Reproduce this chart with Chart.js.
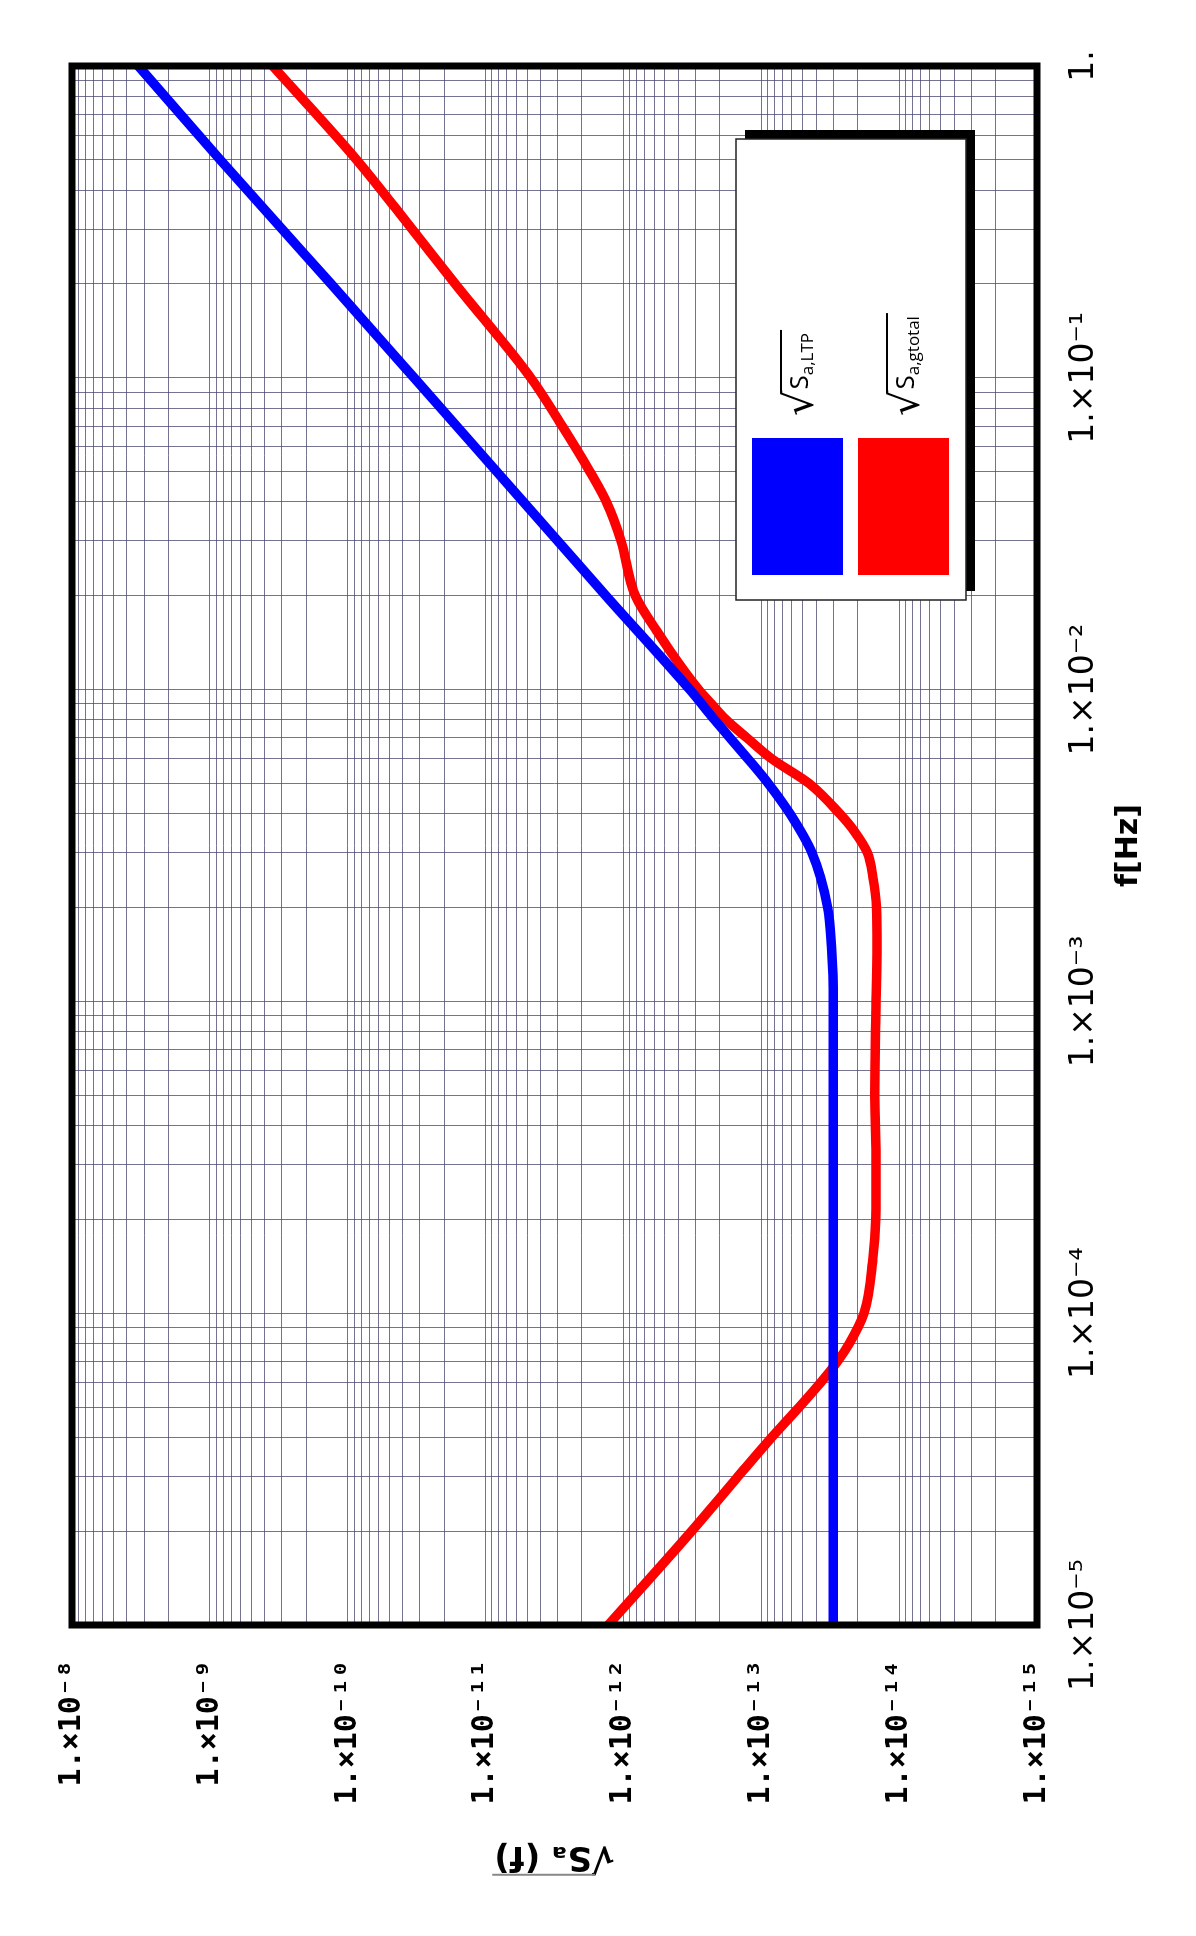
<!DOCTYPE html>
<html><head><meta charset="utf-8">
<script src="https://cdn.jsdelivr.net/npm/chart.js@4.4.1/dist/chart.umd.min.js"></script>
<style>
html,body{margin:0;padding:0;background:#fff;overflow:hidden;width:1196px;height:1936px;}
#wrap{position:absolute;left:0;top:0;width:1936px;height:1196px;transform-origin:0 0;transform:translateY(1936px) rotate(-90deg);background:#fff;}
</style></head><body>
<div id="wrap"><canvas id="c" width="1936" height="1196" style="width:1936px;height:1196px"></canvas></div>
<script>
// ---- data ----
const freqLTP = [1e-5, 1e-4, 1e-3, 1.5e-3, 2e-3, 3e-3, 4e-3, 5e-3, 6e-3, 8e-3, 1e-2, 2e-2, 3e-2, 5e-2, 0.1, 0.2, 0.3, 0.5, 1];
const sLTP    = [3e-14, 3e-14, 3e-14, 3.1e-14, 3.3e-14, 4.3e-14, 6.2e-14, 8.9e-14, 1.25e-13, 2.18e-13, 3.3e-13, 1.34e-12, 3.0e-12, 8.3e-12, 3.3e-11, 1.32e-10, 3.0e-10, 8.4e-10, 3.3e-9];
const freqTotal = [1e-5, 2e-5, 3e-5, 4e-5, 5e-5, 6e-5, 7e-5, 8e-5, 1e-4, 1.5e-4, 2e-4, 3e-4, 5e-4, 1e-3, 1.5e-3, 2e-3, 2.5e-3, 3e-3, 3.5e-3, 4e-3, 5e-3, 6e-3, 7e-3, 8e-3, 9e-3, 1e-2, 1.2e-2, 1.5e-2, 2e-2, 3e-2, 4e-2, 5e-2, 7e-2, 0.1, 0.2, 0.3, 0.5, 1];
const sTotal    = [1.29e-12, 3.2e-13, 1.47e-13, 8.4e-14, 5.3e-14, 3.7e-14, 2.8e-14, 2.3e-14, 1.8e-14, 1.55e-14, 1.48e-14, 1.47e-14, 1.5e-14, 1.47e-14, 1.45e-14, 1.46e-14, 1.55e-14, 1.7e-14, 2.1e-14, 2.7e-14, 4.5e-14, 8.4e-14, 1.27e-13, 1.8e-13, 2.3e-13, 2.85e-13, 3.9e-13, 5.5e-13, 8.2e-13, 1.04e-12, 1.33e-12, 1.75e-12, 2.78e-12, 4.7e-12, 1.66e-11, 3.42e-11, 8.6e-11, 3.5e-10];
const seriesLabels = ['Sa,LTP', 'Sa,gtotal'];
const seriesColors = ['#0000ff', '#ff0000'];
const freqDecades = [1e-5, 1e-4, 1e-3, 1e-2, 1e-1, 1];
const freqDecadeLabels = ['1.×10⁻⁵', '1.×10⁻⁴', '1.×10⁻³', '1.×10⁻²', '1.×10⁻¹', '1.'];
const valueDecades = [1e-15, 1e-14, 1e-13, 1e-12, 1e-11, 1e-10, 1e-9, 1e-8];
const valueDecadeLabels = ['1.×10⁻¹⁵', '1.×10⁻¹⁴', '1.×10⁻¹³', '1.×10⁻¹²', '1.×10⁻¹¹', '1.×10⁻¹⁰', '1.×10⁻⁹', '1.×10⁻⁸'];
const xTitle = 'f[Hz]';
const yTitle = '√Sₐ (f)';

// ---- helpers ----
function logGrid(decs) {
  const out = [];
  for (let i = 0; i < decs.length - 1; i++) {
    for (let m = 1; m < 10; m++) out.push(Number((m * decs[i]).toPrecision(3)));
  }
  out.push(decs[decs.length - 1]);
  return out;
}
function decadeLabel(v, decs, labs) {
  const lv = Math.log10(v);
  for (let i = 0; i < decs.length; i++) {
    if (Math.abs(lv - Math.log10(decs[i])) < 1e-6) return labs[i];
  }
  return '';
}
const pts = (xs, ys) => xs.map((x, i) => ({x: x, y: ys[i]}));

const gridColor = 'rgba(70,70,110,0.75)';

const framePlugin = {
  id: 'frame',
  afterDraw(chart) {
    const {ctx, chartArea: a} = chart;
    ctx.save();
    ctx.strokeStyle = '#000';
    ctx.lineWidth = 7;
    ctx.strokeRect(a.left, a.top, a.right - a.left, a.bottom - a.top);
    ctx.restore();
  }
};

const legendPlugin = {
  id: 'boxLegend',
  afterDatasetsDraw(chart) {
    const {ctx, chartArea: a} = chart;
    const bx = a.right - 534, by = a.bottom - 301, bw = 461, bh = 230;
    ctx.save();
    ctx.fillStyle = '#000';
    ctx.fillRect(bx + 9, by + 9, bw, bh);
    ctx.fillStyle = '#fff';
    ctx.fillRect(bx, by, bw, bh);
    ctx.strokeStyle = '#222';
    ctx.lineWidth = 1.5;
    ctx.strokeRect(bx, by, bw, bh);
    chart.data.datasets.forEach((ds, i) => {
      const py = by + 16 + i * 106;
      ctx.fillStyle = ds.borderColor;
      ctx.fillRect(bx + 25, py, 137, 91);
      const base = py + 56;
      let x = bx + 184;
      ctx.fillStyle = '#000';
      ctx.textBaseline = 'alphabetic';
      ctx.textAlign = 'left';
      ctx.font = '40px "DejaVu Sans"';
      const m = ctx.measureText('√');
      ctx.fillText('√', x, base + 5);
      const topY = base + 5 - m.actualBoundingBoxAscent;
      const vx = x + m.width - 3;
      x += m.width + 1;
      ctx.font = '26px "Open Sans"';
      const main = ds.label.charAt(0);
      ctx.fillText(main, x, base);
      x += ctx.measureText(main).width;
      ctx.font = '17px "Open Sans"';
      const sub = ds.label.slice(1);
      ctx.fillText(sub, x, base + 5);
      x += ctx.measureText(sub).width;
      ctx.strokeStyle = '#000';
      ctx.lineWidth = 2;
      ctx.beginPath();
      ctx.moveTo(vx, topY + 1);
      ctx.lineTo(x + 3, topY + 1);
      ctx.stroke();
    });
    ctx.restore();
  }
};

const titleBarPlugin = {
  id: 'titleBar',
  afterDraw(chart) {
    const ys = chart.scales.y;
    const t = ys.options.title;
    const fnt = Chart.helpers.toFont(t.font);
    const cx = ys.left + fnt.lineHeight / 2 + t.padding.top;
    const cy = (ys.top + ys.bottom) / 2;
    const ctx = chart.ctx;
    ctx.save();
    ctx.font = fnt.string;
    ctx.textBaseline = 'middle';
    const W = ctx.measureText(t.text).width;
    const mr = ctx.measureText('√');
    ctx.translate(cx, cy);
    ctx.rotate(-Math.PI / 2);
    ctx.strokeStyle = '#888';
    ctx.lineWidth = 2;
    ctx.beginPath();
    ctx.moveTo(-W / 2 + mr.width - 3, -mr.actualBoundingBoxAscent + 1);
    ctx.lineTo(W / 2 + 2, -mr.actualBoundingBoxAscent + 1);
    ctx.stroke();
    ctx.restore();
  }
};

new Chart(document.getElementById('c'), {
  type: 'scatter',
  data: {
    datasets: [
      {label: seriesLabels[0], data: pts(freqLTP, sLTP), borderColor: seriesColors[0], backgroundColor: seriesColors[0]},
      {label: seriesLabels[1], data: pts(freqTotal, sTotal), borderColor: seriesColors[1], backgroundColor: seriesColors[1]}
    ]
  },
  options: {
    responsive: false,
    animation: false,
    devicePixelRatio: 1,
    showLine: true,
    layout: {padding: {top: 72, right: 66, left: 0, bottom: 0}},
    elements: {
      point: {radius: 0, hoverRadius: 0},
      line: {borderWidth: 9.5, cubicInterpolationMode: 'monotone', borderCapStyle: 'round', borderJoinStyle: 'round'}
    },
    plugins: {legend: {display: false}, tooltip: {enabled: false}},
    scales: {
      x: {
        type: 'logarithmic', position: 'bottom', min: freqDecades[0], max: freqDecades[freqDecades.length - 1],
        afterBuildTicks: s => { s.ticks = logGrid(freqDecades).map(v => ({value: v})); },
        afterFit: s => { s.height = 159; },
        grid: {color: gridColor, lineWidth: 1, drawTicks: false},
        border: {display: false},
        ticks: {
          autoSkip: false, maxRotation: 0, minRotation: 0, padding: 28, color: '#000',
          font: {family: '"DejaVu Sans"', size: 33},
          callback: v => decadeLabel(v, freqDecades, freqDecadeLabels)
        },
        title: {display: true, text: xTitle, color: '#000', font: {family: '"DejaVu Sans"', size: 30, weight: 'bold'}, padding: {top: 0, bottom: 49}}
      },
      y: {
        type: 'logarithmic', position: 'left', min: valueDecades[0], max: valueDecades[valueDecades.length - 1],
        afterBuildTicks: s => { s.ticks = logGrid(valueDecades).map(v => ({value: v})); },
        afterFit: s => { s.width = 311; },
        grid: {color: gridColor, lineWidth: 1, drawTicks: false},
        border: {display: false},
        ticks: {
          autoSkip: false, padding: 35, color: '#000',
          font: {family: '"DejaVu Sans Mono"', size: 30, weight: 'bold'},
          callback: v => decadeLabel(v, valueDecades, valueDecadeLabels)
        },
        title: {display: true, text: yTitle, color: '#000', font: {family: '"DejaVu Sans"', size: 34, weight: 'bold'}, padding: {top: 60, bottom: 0}}
      }
    }
  },
  plugins: [legendPlugin, framePlugin, titleBarPlugin]
});
</script>
</body></html>
